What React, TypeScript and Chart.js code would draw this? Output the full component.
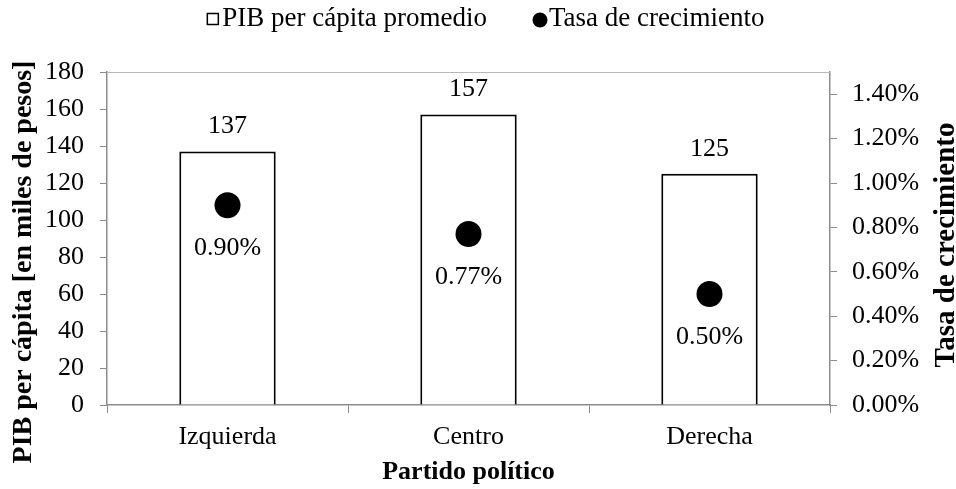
import React, { useEffect, useRef } from "react";
import { Chart, registerables } from "chart.js";

Chart.register(...registerables);

const categories = ["Izquierda", "Centro", "Derecha"];
const pibValues = [137, 157, 125];
const growthValues = [0.9, 0.77, 0.5];
const pibTicks = [0, 20, 40, 60, 80, 100, 120, 140, 160, 180];
const growthTicks = [0, 0.2, 0.4, 0.6, 0.8, 1.0, 1.2, 1.4];
const pibLabel = "PIB per cápita promedio";
const growthLabel = "Tasa de crecimiento";
const leftTitle = "PIB per cápita [en miles de pesos]";
const rightTitle = "Tasa de crecimiento";
const xTitle = "Partido político";

const FONT = "'Liberation Serif', 'Times New Roman', serif";
const AXIS = "#8c8c8c";

export default function App() {
  const ref = useRef<HTMLCanvasElement | null>(null);
  useEffect(() => {
    if (!ref.current) return;
    const extras = {
      id: "extras",
      beforeDatasetsDraw(chart: any) {
        const { ctx, chartArea: a } = chart;
        ctx.save();
        ctx.strokeStyle = "#b8b8b8";
        ctx.lineWidth = 1;
        ctx.beginPath();
        ctx.moveTo(a.left, a.top + 0.5);
        ctx.lineTo(a.right, a.top + 0.5);
        ctx.stroke();
        ctx.restore();
      },
      afterDraw(chart: any) {
        const { ctx, chartArea: a } = chart;
        ctx.save();
        ctx.fillStyle = "#000";
        ctx.font = `26px ${FONT}`;
        ctx.textAlign = "center";
        ctx.textBaseline = "middle";
        const m0 = chart.getDatasetMeta(0);
        m0.data.forEach((el: any, i: number) => {
          ctx.fillText(String(pibValues[i]), el.x, el.y - 25);
        });
        const m1 = chart.getDatasetMeta(1);
        m1.data.forEach((el: any, i: number) => {
          ctx.fillText(growthValues[i].toFixed(2) + "%", el.x, el.y + 43);
        });
        // axis titles
        ctx.textBaseline = "alphabetic";
        ctx.font = `bold 28px ${FONT}`;
        ctx.save();
        ctx.translate(31, 262);
        ctx.rotate(-Math.PI / 2);
        ctx.fillText(leftTitle, 0, 0);
        ctx.restore();
        ctx.font = `bold 29px ${FONT}`;
        ctx.save();
        ctx.translate(954, 245);
        ctx.rotate(-Math.PI / 2);
        ctx.fillText(rightTitle, 0, 0);
        ctx.restore();
        ctx.textBaseline = "middle";
        ctx.font = `bold 26px ${FONT}`;
        ctx.fillText(xTitle, (a.left + a.right) / 2, 472);
        // legend
        ctx.font = `27px ${FONT}`;
        const y = 19;
        ctx.textAlign = "right";
        ctx.fillText(pibLabel, 487, y);
        const w1 = ctx.measureText(pibLabel).width;
        const bx = 487 - w1 - 15;
        ctx.strokeStyle = "#000";
        ctx.lineWidth = 1.5;
        ctx.fillStyle = "#fff";
        ctx.fillRect(bx, y - 5.5, 11, 11);
        ctx.strokeRect(bx, y - 5.5, 11, 11);
        ctx.fillStyle = "#000";
        ctx.beginPath();
        ctx.arc(540, y + 1, 7.5, 0, Math.PI * 2);
        ctx.fill();
        ctx.textAlign = "left";
        ctx.fillText(growthLabel, 549, y);
        ctx.restore();
      },
    };
    const chart = new Chart(ref.current, {
      type: "bar",
      data: {
        labels: categories,
        datasets: [
          {
            type: "bar",
            label: pibLabel,
            data: pibValues,
            backgroundColor: "#ffffff",
            borderColor: "#000000",
            borderWidth: 2,
            barPercentage: 0.8,
            categoryPercentage: 0.5,
            yAxisID: "y",
            order: 2,
          },
          {
            type: "line",
            label: growthLabel,
            data: growthValues,
            showLine: false,
            pointRadius: 13,
            pointBorderWidth: 0,
            pointBackgroundColor: "#000",
            pointBorderColor: "#000",
            yAxisID: "y1",
            order: 1,
          } as any,
        ],
      },
      plugins: [extras],
      options: {
        animation: false,
        responsive: true,
        maintainAspectRatio: false,
        layout: { padding: { top: 72, left: 0, right: 0, bottom: 0 } },
        plugins: {
          legend: { display: false },
          tooltip: { enabled: false },
        },
        scales: {
          x: {
            offset: true,
            grid: {
              offset: true,
              drawOnChartArea: false,
              drawTicks: true,
              tickLength: 8,
              color: AXIS,
            },
            border: { color: AXIS, width: 1.5 },
            ticks: { color: "#000", font: { family: FONT, size: 26 }, padding: 9 },
            afterFit(s: any) {
              s.height = 84;
            },
          },
          y: {
            position: "left",
            min: 0,
            max: 180,
            ticks: { color: "#000", font: { family: FONT, size: 26 }, padding: 16 },
            afterBuildTicks(s: any) {
              s.ticks = pibTicks.map((v) => ({ value: v }));
            },
            grid: { drawOnChartArea: false, tickLength: 7, color: AXIS },
            border: { color: AXIS, width: 1.5 },
            afterFit(s: any) {
              s.width = 107;
            },
          },
          y1: {
            position: "right",
            min: 0,
            max: 1.5,
            ticks: {
              color: "#000",
              font: { family: FONT, size: 26 },
              padding: 15,
              callback: (v: any) => Number(v).toFixed(2) + "%",
            },
            afterBuildTicks(s: any) {
              s.ticks = growthTicks.map((v) => ({ value: v }));
            },
            grid: { drawOnChartArea: false, tickLength: 7, color: AXIS },
            border: { color: AXIS, width: 1.5 },
            afterFit(s: any) {
              s.width = 126;
            },
          },
        },
      },
    });
    return () => chart.destroy();
  }, []);
  return (
    <div style={{ position: "fixed", left: 0, top: 0, width: 956, height: 489 }}>
      <canvas ref={ref} />
    </div>
  );
}
